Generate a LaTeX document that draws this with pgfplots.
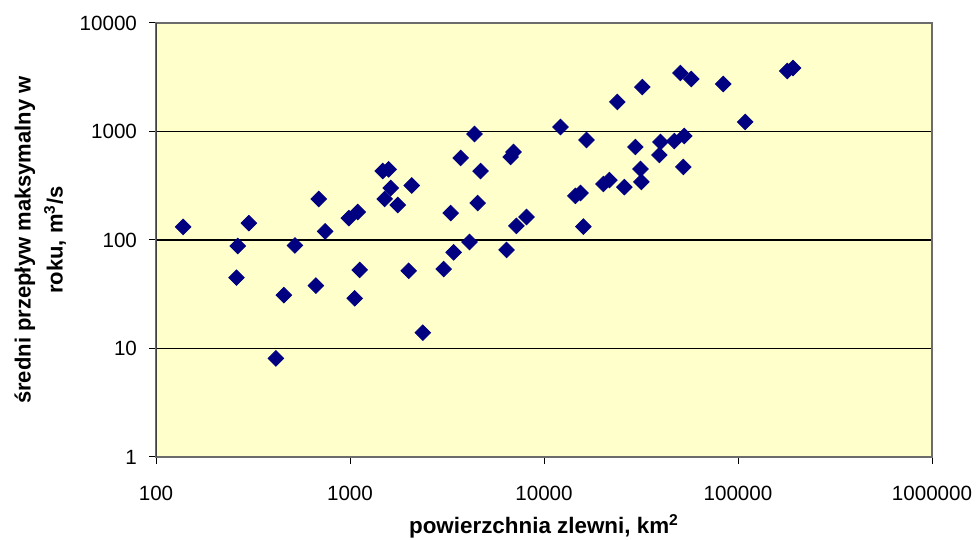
\documentclass[border=0pt]{standalone}
\usepackage{fontspec}
\setmainfont{Liberation Sans}
\usepackage{pgfplots}
\pgfplotsset{compat=1.18}
\definecolor{bgyellow}{HTML}{FFFFCC}
\definecolor{navymark}{HTML}{000080}
\begin{document}
\begin{tikzpicture}
\path[use as bounding box] (0,0) rectangle (489.5pt,270pt);
\begin{axis}[
  at={(78pt,41.5pt)}, anchor=south west,
  scale only axis, width=388pt, height=217pt,
  xmode=log, ymode=log,
  xmin=100, xmax=1000000, ymin=1, ymax=10000,
  xtick={100,1000,10000,100000,1000000},
  xticklabels={100,1000,10000,100000,1000000},
  ytick={1,10,100,1000,10000},
  yticklabels={1,10,100,1000,10000},
  minor tick length=0pt,
  tick align=outside, tick pos=left,
  major tick length=3.5pt,
  tick style={black, line width=0.5pt},
  ymajorgrids, major grid style={black, line width=0.6pt},
  axis background/.style={fill=bgyellow},
  axis line style={draw=gray!85!black, line width=1pt},
  ticklabel style={font=\fontsize{10.3}{12}\selectfont},
  xticklabel style={yshift=-7.5pt},
  yticklabel style={xshift=-2.5pt},
  xlabel={\textbf{powierzchnia zlewni, km\textsuperscript{2}}},
  xlabel style={at={(axis description cs:0.5,-0.16)}, anchor=center, font=\fontsize{11.2}{13}\selectfont},
  ylabel={\textbf{średni przepływ maksymalny w}\\\textbf{roku, m\textsuperscript{3}/s}},
  ylabel style={at={(axis description cs:-0.149,0.5)}, anchor=center, align=center, font=\fontsize{11}{16}\selectfont},
]
\addplot[only marks, mark=square*, mark size=2.75pt,
  mark options={rotate=45, fill=navymark, draw=navymark}] coordinates {
(138,132) (264,88) (260,45) (301,143) (415,8.1) (456,31) (520,89) (667,38)
(690,239) (745,120) (986,159) (1057,29) (1096,181) (1122,53) (1475,432)
(1582,448) (1510,239) (1622,301) (1763,210) (2081,318) (2006,52) (2372,14)
(3040,54) (3304,177) (3420,77) (3718,570) (4130,96) (4385,948) (4550,219)
(4710,432) (6410,81) (6730,582) (6965,647) (7210,135) (8130,163) (12160,1099)
(14520,255) (15420,271) (15960,133) (16560,836) (20230,328) (21740,357)
(23880,1871) (25950,307) (29580,720) (31410,451) (31770,343) (32130,2570)
(39340,607) (39840,800) (46970,817) (50460,3459) (52270,471) (52850,910)
(57440,3048) (83900,2741) (108900,1225) (179500,3614) (192200,3847)
};
\draw[black!75, line width=1pt] (rel axis cs:0,0) -- (rel axis cs:0,1);
\end{axis}
\end{tikzpicture}
\end{document}
